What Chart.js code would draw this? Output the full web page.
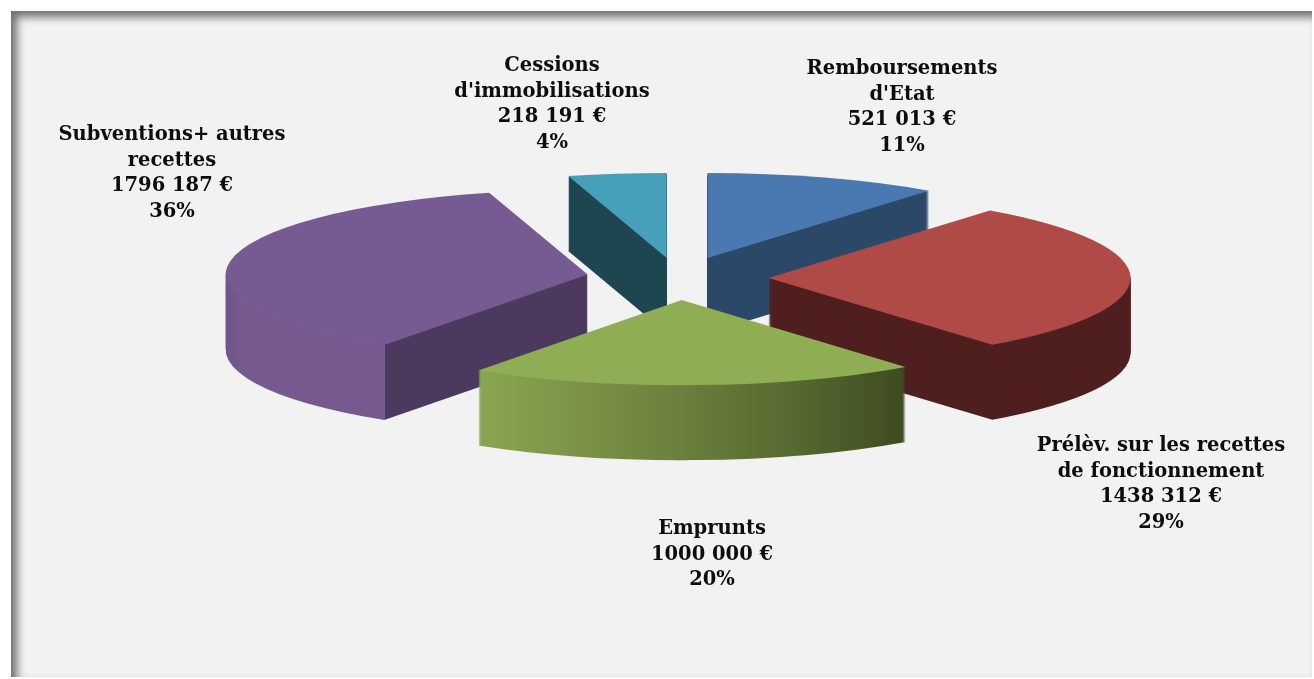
<!DOCTYPE html>
<html lang="fr">
<head>
<meta charset="utf-8">
<title>Recettes</title>
<script src="https://cdn.jsdelivr.net/npm/chart.js@4"></script>
<style>
    html, body { margin: 0; height: 100%; background: #fff; overflow: hidden; }
    #frame {
        position: absolute; left: 11px; top: 11px; width: 1301px; height: 666px;
        background: #f2f2f2;
        box-shadow: inset 6px 6px 9px #707070;
    }
    #wrap { position: absolute; left: 0; top: 0; width: 1314px; height: 679px; }
</style>
</head>
<body>
<div id="frame"></div>
<div id="wrap"><canvas id="recettes"></canvas></div>
<script>
const categories = [
    ["Remboursements", "d'Etat"],
    ["Prélèv. sur les recettes", "de fonctionnement"],
    ["Emprunts"],
    ["Subventions+ autres", "recettes"],
    ["Cessions", "d'immobilisations"]
];
const montants = [521013, 1438312, 1000000, 1796187, 218191];
const pourcentages = [11, 29, 20, 36, 4];

const couleurs = ["#4a78b0", "#b04a47", "#8fae54", "#765b93", "#47a0ba"];
const explosion = [90, 90, 94, 92, 86];

// flanc de chaque part : [x, couleur]
const flancs = [
    [[0, "#2c4869"], [1, "#2c4869"]],
    [[0, "#4f1e1e"], [1, "#4f1e1e"]],
    [[477, "#8aa650"], [660, "#6f8340"], [800, "#55682f"], [905, "#3e4a20"]],
    [[227, "#6f558a"], [240, "#75598f"], [385, "#75598f"], [385, "#4b3a5e"], [600, "#4b3a5e"]],
    [[0, "#1d4650"], [1, "#1d4650"]]
];

// ordre de dessin, du fond vers l'avant
const ordre = [4, 3, 0, 1, 2];
const ecrasement = 0.235;
const profondeur = 75;

// centre horizontal et première ligne des étiquettes
const etiquettes = [
    { x: 902, y: 69 },
    { x: 1161, y: 446 },
    { x: 712, y: 529 },
    { x: 172, y: 135 },
    { x: 552, y: 66 }
];

function formatMontant(v) {
    return String(v).replace(/(\d{3})$/, " $1") + " €";
}

function decalage(arc) {
    const milieu = (arc.startAngle + arc.endAngle) / 2;
    return {
        x: Math.cos(milieu) * arc.options.offset,
        y: Math.sin(milieu) * arc.options.offset
    };
}

// le dégradé suit le contexte translaté, on le recale donc de dx
function degrade(ctx, stops, dx) {
    const x0 = stops[0][0], x1 = stops[stops.length - 1][0];
    const g = ctx.createLinearGradient(x0 - dx, 0, x1 - dx, 0);
    stops.forEach(s => g.addColorStop((s[0] - x0) / (x1 - x0), s[1]));
    return g;
}

// l'arc garde son rayon : le décalage est appliqué ici et non par Arc.draw
function dessinerArc(ctx, arc, fond) {
    const copie = Object.create(arc);
    copie.options = Object.assign({}, arc.options, { backgroundColor: fond, offset: 0 });
    const d = decalage(arc);
    ctx.translate(d.x, d.y);
    arc.draw.call(copie, ctx);
}

const pie3d = {
    id: "pie3d",
    beforeDatasetDraw(chart, args) {
        const ctx = chart.ctx;
        const arcs = args.meta.data;
        const cy = arcs[0].y;

        function ecraser(dy) {
            ctx.save();
            ctx.translate(0, cy + dy);
            ctx.scale(1, ecrasement);
            ctx.translate(0, -cy);
        }

        ordre.forEach(i => {
            const fond = degrade(ctx, flancs[i], decalage(arcs[i]).x);
            for (let d = profondeur; d > 0; d--) {
                ecraser(d);
                dessinerArc(ctx, arcs[i], fond);
                ctx.restore();
            }
            ecraser(0);
            dessinerArc(ctx, arcs[i], couleurs[i]);
            ctx.restore();
        });
        return false;
    },
    afterDatasetsDraw(chart) {
        const ctx = chart.ctx;
        ctx.save();
        ctx.fillStyle = "#0d0d0d";
        ctx.textAlign = "center";
        ctx.textBaseline = "middle";
        ctx.font = "bold 19.5px 'DejaVu Serif'";
        categories.forEach((nom, i) => {
            const lignes = nom.concat([formatMontant(montants[i]), pourcentages[i] + "%"]);
            lignes.forEach((t, n) => {
                ctx.fillText(t, etiquettes[i].x, etiquettes[i].y + n * 25.5);
            });
        });
        ctx.restore();
    }
};

new Chart(document.getElementById("recettes"), {
    type: "pie",
    data: {
        labels: categories.map(c => c.join(" ")),
        datasets: [{
            data: montants,
            backgroundColor: couleurs,
            offset: explosion,
            borderWidth: 0,
            radius: 362,
            clip: false
        }]
    },
    options: {
        responsive: true,
        maintainAspectRatio: false,
        animation: false,
        layout: { padding: { left: 43, bottom: 123 } },
        plugins: {
            legend: { display: false },
            tooltip: { enabled: false }
        }
    },
    plugins: [pie3d]
});
</script>
</body>
</html>
